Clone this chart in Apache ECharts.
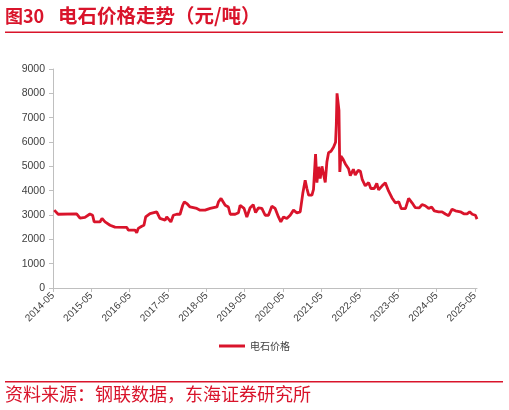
<!DOCTYPE html>
<html><head><meta charset="utf-8">
<script src="https://cdn.jsdelivr.net/npm/echarts@6/dist/echarts.min.js"></script>
<style>html,body{margin:0;padding:0;background:#fff}#c{width:509px;height:410px}</style>
</head><body><div id="c"></div>
<script>
const seriesName = '电石价格';
const xTickLabels = ['2014-05','2015-05','2016-05','2017-05','2018-05','2019-05','2020-05','2021-05','2022-05','2023-05','2024-05','2025-05'];
const yTicks = [0,1000,2000,3000,4000,5000,6000,7000,8000,9000];
const dates = [
'2014-05-13','2014-06-20','2014-12-13','2015-01-15','2015-03-01','2015-04-18','2015-05-13','2015-05-28','2015-07-22','2015-08-11',
'2015-09-10','2015-10-27','2015-12-13','2016-04-04','2016-04-18','2016-06-21','2016-07-07','2016-07-22','2016-08-25','2016-09-15',
'2016-10-01','2016-11-12','2016-11-28','2017-01-15','2017-02-01','2017-02-15','2017-04-04','2017-04-19','2017-05-04','2017-05-28',
'2017-06-21','2017-07-23','2017-08-24','2017-09-19','2017-10-04','2017-10-28','2017-11-28','2018-02-01','2018-03-02','2018-04-19',
'2018-06-07','2018-08-10','2018-08-25','2018-09-19','2018-10-06','2018-10-28','2018-11-28','2018-12-15','2019-02-01','2019-03-02',
'2019-03-18','2019-04-04','2019-04-25','2019-05-21','2019-06-06','2019-06-22','2019-07-21','2019-08-13','2019-09-09','2019-10-12',
'2019-11-13','2019-12-14','2020-01-16','2020-02-17','2020-03-18','2020-04-10','2020-05-05','2020-06-06','2020-07-08','2020-08-09',
'2020-09-11','2020-10-12','2020-11-06','2020-11-29','2020-12-15','2021-01-01','2021-02-02','2021-02-17','2021-03-06','2021-03-19',
'2021-04-04','2021-04-20','2021-05-06','2021-05-21','2021-06-07','2021-06-23','2021-07-08','2021-08-01','2021-08-25','2021-09-14',
'2021-09-21','2021-09-28','2021-10-10','2021-10-16','2021-10-24','2021-11-04','2021-11-24','2021-12-16','2022-01-16','2022-02-02',
'2022-03-01','2022-03-19','2022-04-17','2022-05-07','2022-05-25','2022-06-23','2022-07-25','2022-08-15','2022-09-18','2022-10-11',
'2022-10-28','2022-12-01','2023-01-01','2023-02-02','2023-03-04','2023-04-05','2023-05-07','2023-06-01','2023-07-10','2023-08-10',
'2023-08-26','2023-09-12','2023-10-13','2023-11-20','2023-12-16','2024-01-16','2024-02-18','2024-03-16','2024-04-11','2024-05-22',
'2024-06-24','2024-07-25','2024-08-26','2024-09-28','2024-10-29','2024-12-16','2025-01-18','2025-02-19','2025-03-13','2025-04-07',
'2025-05-07','2025-05-22'
];
const prices = [
3200,3030,3050,2870,2900,3040,2990,2715,2715,2860,
2715,2580,2500,2490,2380,2380,2270,2450,2540,2580,
2920,3060,3130,3130,3060,2860,2790,2920,2920,2715,
2990,3030,3030,3400,3540,3470,3330,3270,3200,3200,
3270,3330,3540,3680,3650,3400,3330,3030,3030,3090,
3400,3470,3270,2920,2950,3300,3420,3100,3290,3270,
2990,2990,3360,3270,2920,2715,2920,2855,2990,3200,
3090,3130,3880,4430,4090,3815,3815,4050,5500,4330,
4980,4500,5000,4960,4340,5190,5560,5620,5780,5990,
6700,8000,8070,7300,4770,5420,5300,5100,4900,4620,
4880,4640,4840,4800,4450,4200,4330,4090,4090,4300,
4030,4200,4320,3980,3700,3500,3540,3260,3260,3680,
3750,3500,3300,3290,3430,3380,3270,3330,3170,3130,
3130,3040,2970,3240,3170,3130,3050,3050,3130,3030,
2990,2830
];
function toMonths(s){const p=s.split('-').map(Number);return (p[0]-2014)*12+(p[1]-5)+(p[2]-1)/30.5;}
const data = dates.map((d,i)=>[toMonths(d),prices[i]]);
const tickVals = xTickLabels.map((_,i)=>i*12);
const red = '#d9142b';
const chart = echarts.init(document.getElementById('c'));
chart.setOption({
  animation:false,
  textStyle:{fontFamily:'Liberation Sans, Noto Sans CJK SC'},
  grid:{left:53,right:32,top:69,bottom:122,containLabel:false},
  legend:{data:[seriesName],top:336,left:'center',icon:'rect',itemWidth:26,itemHeight:3,itemGap:4,
    textStyle:{fontSize:10,color:'#404040',fontFamily:'Noto Sans CJK SC'}},
  xAxis:{type:'value',min:0,max:function(v){return v.max;},
    splitLine:{show:false},
    axisLine:{lineStyle:{color:'#bfbfbf',width:1}},
    axisTick:{show:true,customValues:tickVals,length:4,lineStyle:{color:'#bfbfbf'}},
    axisLabel:{customValues:tickVals,rotate:45,fontSize:10,color:'#404040',margin:6,
      formatter:function(v){return xTickLabels[Math.round(v/12)];}}},
  yAxis:{type:'value',min:0,max:9000,interval:1000,
    splitLine:{show:false},
    axisLine:{show:true,lineStyle:{color:'#bfbfbf',width:1}},
    axisTick:{show:true,length:4,lineStyle:{color:'#bfbfbf'}},
    axisLabel:{fontSize:10.5,color:'#404040',margin:8,formatter:function(v){return String(v);}}},
  series:[{name:seriesName,type:'line',data:data,symbol:'none',
    lineStyle:{color:red,width:2.8},itemStyle:{color:red}}],
  graphic:[
    {type:'text',left:5,top:7,style:{text:'图30',font:'bold 18px "Noto Sans CJK SC"',fill:red}},
    {type:'text',left:58,top:6,style:{text:'电石价格走势（元/吨）',font:'bold 19.5px "Noto Sans CJK SC"',fill:red}},
    {type:'rect',shape:{x:5,y:31.5,width:498,height:1.6},style:{fill:red}},
    {type:'rect',shape:{x:5,y:381,width:498,height:1.6},style:{fill:red}},
    {type:'text',left:5,top:385,style:{text:'资料来源：钢联数据，东海证券研究所',font:'18px "Noto Sans CJK SC"',fill:red}}
  ]
});
</script></body></html>
